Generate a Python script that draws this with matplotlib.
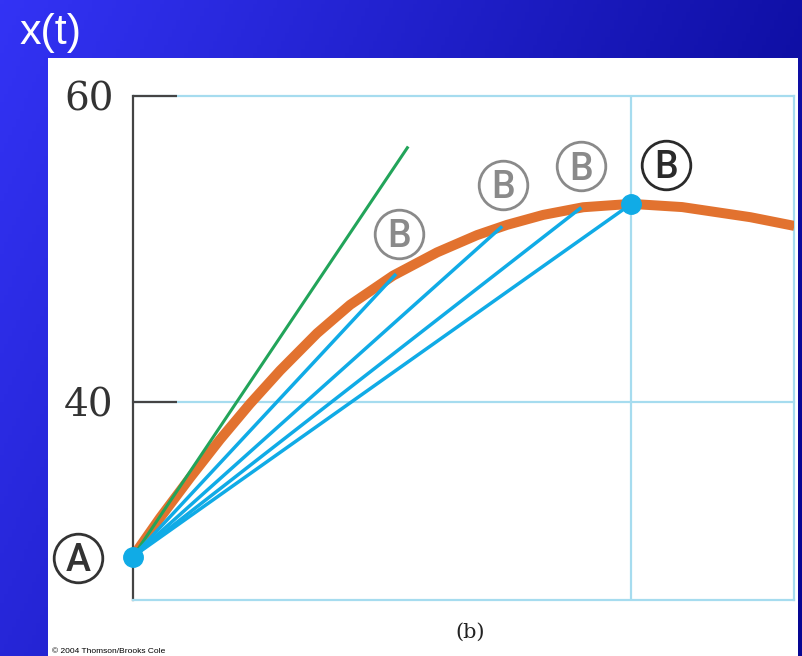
import numpy as np
import matplotlib.pyplot as plt

# position curve x(t)
t_curve = [0.0, 0.163, 0.343, 0.524, 0.705, 0.886, 1.108, 1.307, 1.566, 1.831,
           2.072, 2.253, 2.470, 2.711, 3.0, 3.307, 3.717, 3.982]
x_curve = [29.9, 32.43, 35.04, 37.55, 39.89, 42.06, 44.49, 46.35, 48.26, 49.78,
           50.91, 51.58, 52.23, 52.73, 52.95, 52.74, 52.08, 51.51]

# point A and the successive chord end points B
t_a, x_a = 0.0, 29.9
t_b = [1.584, 2.223, 2.699, 3.0]
x_b = [48.37, 51.48, 52.71, 52.95]

# tangent line at A
t_tan = [0.0, 1.657]
x_tan = [29.9, 56.7]

# circled labels (centre positions)
lab_t = [-0.33, 1.60, 2.23, 2.70, 3.21]
lab_x = [29.8, 51.0, 54.2, 55.4, 55.5]
lab_txt = ["A", "B", "B", "B", "B"]
lab_col = ["#333333", "#8a8a8a", "#8a8a8a", "#8a8a8a", "#2a2a2a"]

yticks = [40, 60]
ytick_labels = ["40", "60"]

fig = plt.figure(figsize=(8.02, 6.56), dpi=100)

# slide background gradient
bg = fig.add_axes([0, 0, 1, 1], zorder=-10)
gx = np.linspace(0, 1, 200)[None, :]
gy = np.linspace(0, 1, 160)[:, None]
c0 = np.array([0.20, 0.20, 0.96])
c1 = np.array([0.03, 0.03, 0.58])
f = np.clip(0.8 * gx + 0.3 * gy, 0, 1)[..., None]
img = c0 * (1 - f) + c1 * f
bg.imshow(img, aspect="auto", extent=[0, 1, 0, 1], origin="upper")
bg.set_xlim(0, 1)
bg.set_ylim(0, 1)
bg.axis("off")
bg.add_patch(plt.Rectangle((48 / 802, 0), (798 - 48) / 802, (656 - 58) / 656,
                           facecolor="white", edgecolor="none"))

fig.text(20 / 802, 1 - 44 / 656, "x(t)", color="white", fontsize=31,
         family="Liberation Sans", va="baseline", ha="left")
fig.text(52 / 802, 0.002, "\u00a9 2004 Thomson/Brooks Cole", fontsize=6,
         family="Liberation Sans", va="bottom", ha="left")
fig.text(470 / 802, 1 - 632 / 656, "(b)", fontsize=15, family="DejaVu Serif",
         ha="center", va="center", color="#222222")

ax = fig.add_axes([133 / 802, (656 - 600) / 656, (794 - 133) / 802, (600 - 96) / 656])
ax.set_facecolor("none")
ax.set_xlim(0, 3.98)
ax.set_ylim(27.06, 60)

grid_col = "#a6dcef"
ax.spines["top"].set_visible(False)
ax.spines["left"].set_color("#444444")
ax.spines["left"].set_linewidth(1.6)
for s in ["bottom", "right"]:
    ax.spines[s].set_color(grid_col)
    ax.spines[s].set_linewidth(1.6)

ax.set_yticks(yticks)
ax.set_yticklabels(ytick_labels, family="DejaVu Serif", fontsize=28, color="#333333")
ax.tick_params(axis="y", direction="in", length=32, width=1.6, color="#444444", pad=14)
ax.set_xticks([3.0])
ax.tick_params(axis="x", length=0, labelbottom=False)
ax.grid(True, color=grid_col, linewidth=1.6)
for gl in ax.get_ygridlines():
    gl.set_clip_on(False)

ax.plot(t_curve, x_curve, color="#e2722f", lw=7.2, solid_capstyle="butt",
        solid_joinstyle="round", zorder=3)
ax.plot(t_tan, x_tan, color="#22a45a", lw=2.2, zorder=4, solid_capstyle="butt")
for tb, xb in zip(t_b, x_b):
    ax.plot([t_a, tb], [x_a, xb], color="#10abe6", lw=2.5, zorder=5,
            solid_capstyle="butt")
ax.plot([t_a, t_b[-1]], [x_a, x_b[-1]], "o", color="#10abe6", ms=14,
        zorder=6, clip_on=False)

for lt, lx, s, c in zip(lab_t, lab_x, lab_txt, lab_col):
    ax.plot(lt, lx, "o", ms=35, mfc="none", mec=c, mew=2.0, clip_on=False, zorder=7)
    ax.annotate(s, (lt, lx), xytext=(0, -9.6), textcoords="offset points",
                ha="center", va="baseline", fontsize=27, color=c,
                family="Roboto", fontweight="medium", annotation_clip=False, zorder=7)

plt.savefig("out.png", dpi=100)
